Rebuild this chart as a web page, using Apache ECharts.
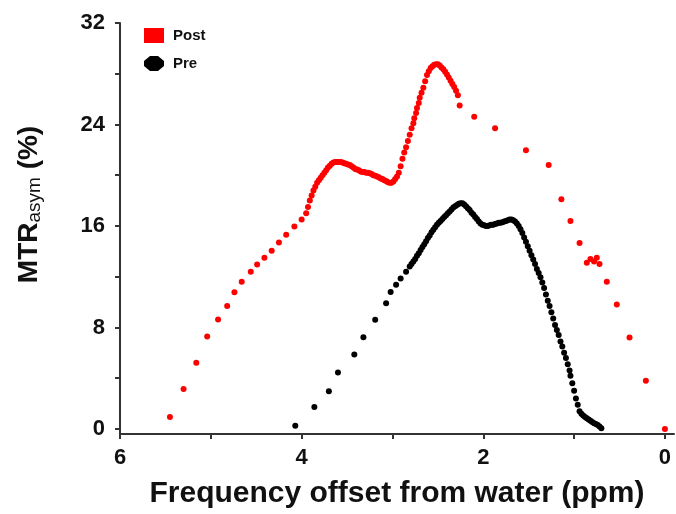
<!DOCTYPE html>
<html>
<head>
<meta charset="utf-8">
<script src="https://cdn.jsdelivr.net/npm/echarts@6/dist/echarts.min.js"></script>
<style>
  html, body { margin: 0; padding: 0; background: #fff; }
  #main { width: 676px; height: 514px; }
</style>
</head>
<body>
<div id="main"></div>
<script>
// ppm offsets / MTRasym (%)
var postX = [5.45, 5.30, 5.16, 5.04, 4.92, 4.82, 4.74, 4.66, 4.56, 4.49, 4.41, 4.33, 4.25, 4.17, 4.08, 4.00, 3.95,
  3.93, 3.91, 3.89, 3.87, 3.85, 3.83, 3.81, 3.79, 3.77, 3.75, 3.73, 3.71, 3.69, 3.67, 3.65, 3.63, 3.61, 3.59, 3.57,
  3.55, 3.53, 3.51, 3.49, 3.47, 3.45, 3.43, 3.41, 3.39, 3.37, 3.35, 3.33, 3.31, 3.29, 3.27, 3.25, 3.23, 3.21, 3.19,
  3.17, 3.15, 3.13, 3.11, 3.09, 3.07, 3.05, 3.03, 3.01, 2.99, 2.97, 2.95, 2.93, 2.91, 2.89, 2.87,
  2.85, 2.83, 2.81, 2.79, 2.77, 2.76, 2.74, 2.73, 2.71, 2.70, 2.68, 2.66, 2.64,
  2.62, 2.60, 2.58, 2.56, 2.54, 2.52, 2.50, 2.48, 2.46, 2.44, 2.42, 2.40, 2.38, 2.36, 2.34, 2.32, 2.30, 2.28, 2.26,
  2.10, 1.87, 1.53, 1.28, 1.14, 1.04, 0.94, 0.86, 0.82, 0.78, 0.75, 0.72, 0.64, 0.53, 0.39, 0.21, 0.00];
var postY = [0.95, 3.15, 5.22, 7.29, 8.63, 9.69, 10.78, 11.6, 12.4, 12.97, 13.49, 14.05, 14.7, 15.3, 15.95, 16.5, 17.0,
  17.5, 18.0, 18.4, 18.8, 19.1, 19.4, 19.6, 19.8, 20.0, 20.2, 20.4, 20.6, 20.75, 20.9, 21.0, 21.05, 21.05, 21.05, 21.05,
  21.0, 20.95, 20.9, 20.85, 20.8, 20.7, 20.6, 20.5, 20.45, 20.4, 20.3, 20.25, 20.25, 20.2, 20.2, 20.15, 20.1, 20.0, 19.95,
  19.9, 19.85, 19.75, 19.7, 19.6, 19.55, 19.45, 19.4, 19.4, 19.5, 19.7, 19.9, 20.2, 20.7, 21.3, 21.8,
  22.2, 22.7, 23.2, 23.7, 24.1, 24.5, 24.9, 25.3, 25.7, 26.1, 26.5, 26.9, 27.4,
  27.9, 28.2, 28.45, 28.6, 28.7, 28.75, 28.75, 28.65, 28.5, 28.35, 28.15, 27.95, 27.7, 27.45, 27.2, 26.95, 26.65, 26.3, 25.5,
  24.6, 23.7, 21.96, 20.8, 18.1, 16.4, 14.65, 13.1, 13.4, 13.2, 13.5, 13.0, 11.6, 9.8, 7.2, 3.8, 0.0];

var preX = [4.07, 3.86, 3.70, 3.60, 3.42, 3.32, 3.19, 3.07, 3.02, 2.96, 2.91, 2.85,
  2.81, 2.79, 2.77, 2.75, 2.73, 2.71, 2.69, 2.67, 2.65, 2.63, 2.61, 2.59, 2.57, 2.55, 2.53, 2.51, 2.49, 2.47, 2.45,
  2.43, 2.41, 2.39, 2.37, 2.35, 2.33, 2.31, 2.29, 2.27, 2.25, 2.23, 2.21, 2.19, 2.17, 2.15, 2.13, 2.11, 2.09, 2.07,
  2.05, 2.03, 2.01, 1.99, 1.97, 1.95, 1.93, 1.91, 1.89, 1.87, 1.85, 1.83, 1.81, 1.79, 1.77, 1.75, 1.73, 1.71, 1.69,
  1.67, 1.65, 1.63, 1.61, 1.59, 1.57, 1.55, 1.53, 1.51, 1.49, 1.47, 1.45, 1.43, 1.41, 1.39, 1.37, 1.35,
  1.33, 1.31, 1.29, 1.27, 1.25, 1.23, 1.21, 1.19, 1.17, 1.15, 1.13, 1.11, 1.09, 1.07, 1.05, 1.04, 1.02, 1.00, 0.98, 0.96,
  0.94, 0.92, 0.90, 0.88, 0.86, 0.84, 0.82, 0.80, 0.78, 0.76, 0.74, 0.72, 0.70];
var preY = [0.26, 1.73, 2.97, 4.44, 5.87, 7.23, 8.6, 9.9, 10.8, 11.37, 11.86, 12.4,
  12.8, 13.0, 13.2, 13.4, 13.65, 13.85, 14.1, 14.35, 14.55, 14.8, 15.05, 15.25, 15.5, 15.7, 15.9, 16.1, 16.25, 16.4, 16.55,
  16.7, 16.85, 17.0, 17.15, 17.3, 17.45, 17.55, 17.65, 17.75, 17.8, 17.8, 17.7, 17.55, 17.4, 17.25, 17.05, 16.9, 16.7, 16.55,
  16.35, 16.2, 16.1, 16.05, 16.0, 16.0, 16.05, 16.1, 16.1, 16.15, 16.2, 16.25, 16.25, 16.3, 16.35, 16.4, 16.45, 16.5, 16.5,
  16.45, 16.35, 16.2, 16.0, 15.75, 15.45, 15.1, 14.75, 14.4, 14.05, 13.7, 13.35, 13.0, 12.6, 12.3, 11.95, 11.55,
  11.1, 10.6, 10.1, 9.7, 9.2, 8.7, 8.2, 7.8, 7.4, 6.9, 6.5, 6.0, 5.6, 5.1, 4.6, 4.2, 3.6, 3.0, 2.4, 1.9,
  1.4, 1.2, 1.05, 0.95, 0.85, 0.75, 0.65, 0.55, 0.45, 0.38, 0.3, 0.2, 0.05];

var xLabels = [0, 2, 4, 6];
var xTicks = [0, 1, 2, 3, 4, 5, 6];
var yLabels = [0, 8, 16, 24, 32];
var yTicks = [0, 4, 8, 12, 16, 20, 24, 28, 32];

function pairs(xs, ys) {
  return xs.map(function (x, i) { return [x, ys[i]]; });
}

var chart = echarts.init(document.getElementById('main'));
var axisColor = '#333';
var font = 'Liberation Sans, Arial, sans-serif';

chart.setOption({
  animation: false,
  grid: { left: 120, right: 2, top: 23, bottom: 80 },
  legend: {
    orient: 'vertical',
    left: 139,
    top: 23,
    itemWidth: 20,
    itemHeight: 15,
    itemGap: 13,
    textStyle: { fontFamily: font, fontWeight: 'bold', fontSize: 15, color: '#111', padding: [0, 0, 0, 4] },
    data: [
      { name: 'Post', icon: 'rect' },
      { name: 'Pre', icon: 'path://M6,0 L14,0 L20,5 L20,10 L14,15 L6,15 L0,10 L0,5 Z' }
    ]
  },
  xAxis: {
    type: 'value', inverse: true, min: -0.1, max: 6,
    name: 'Frequency offset from water (ppm)',
    nameLocation: 'middle', nameGap: 45,
    nameTextStyle: { fontFamily: font, fontWeight: 'bold', fontSize: 30, color: '#111' },
    axisLine: { onZero: false, lineStyle: { color: axisColor, width: 2 } },
    axisTick: { customValues: xTicks, length: 5, lineStyle: { color: axisColor, width: 2 } },
    axisLabel: { customValues: xLabels, margin: 13, fontFamily: font, fontWeight: 'bold', fontSize: 22, color: '#111' },
    splitLine: { show: false }
  },
  yAxis: {
    type: 'value', min: -0.4, max: 32,
    name: '{b|MTR}{s|asym}{b| (%)}',
    nameLocation: 'middle', nameGap: 76, nameRotate: 90,
    nameTextStyle: {
      padding: [0, 0, 0, 48],
      rich: {
        b: { fontFamily: font, fontWeight: 'bold', fontSize: 28, color: '#111' },
        s: { fontFamily: font, fontSize: 19, color: '#111', verticalAlign: 'bottom', padding: [10, 0, 0, 0] }
      }
    },
    axisLine: { onZero: false, lineStyle: { color: axisColor, width: 2 } },
    axisTick: { customValues: yTicks, length: 5, lineStyle: { color: axisColor, width: 2 } },
    axisLabel: { customValues: yLabels, margin: 15, fontFamily: font, fontWeight: 'bold', fontSize: 22, color: '#111' },
    splitLine: { show: false }
  },
  series: [{
    name: 'Post', type: 'scatter', symbol: 'circle', symbolSize: 6,
    itemStyle: { color: '#ff0000', opacity: 1 },
    data: pairs(postX, postY)
  }, {
    name: 'Pre', type: 'scatter', symbol: 'circle', symbolSize: 6,
    itemStyle: { color: '#000000', opacity: 1 },
    data: pairs(preX, preY)
  }]
});
</script>
</body>
</html>
